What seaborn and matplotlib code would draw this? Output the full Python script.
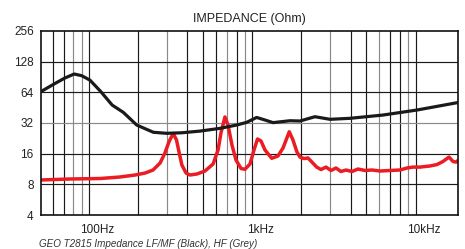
import matplotlib.pyplot as plt
import seaborn as sns
import pandas as pd

# values: frequency (Hz) / impedance (Ohm)
lf_freq = [44.9, 55, 63, 72, 80, 90, 105, 123, 144, 174, 220, 265, 328, 425, 563, 713,
           820, 945, 1060, 1190, 1510, 1740, 2150, 2660, 3530, 5600, 9070, 16180]
lf_ohm = [64.7, 78, 88, 96.5, 93, 84, 64.7, 47.9, 40.6, 30.5, 25.9, 25.3, 25.6, 26.6, 28.3, 30.5,
          32.4, 36.2, 34.2, 32.2, 33.6, 33.4, 36.8, 34.7, 35.5, 38.2, 42.8, 50.7]

hf_freq = [44.9, 68, 104, 137, 170, 196, 219, 242, 259, 274, 291, 305, 316, 329, 349, 369, 407, 456,
           511, 548, 571, 604, 631, 667, 706, 758, 801, 860, 910, 956, 1004, 1063, 1168, 1276, 1370,
           1497, 1577, 1668, 1741, 1842, 1948, 2062, 2203, 2342, 2514, 2697, 2893, 3104, 3331, 3627,
           3946, 4355, 4808, 5383, 6198, 7131, 7874, 8570, 9463, 10890, 12030, 13090, 14250, 15070,
           15730, 16180]
hf_ohm = [8.82, 9.02, 9.12, 9.43, 9.87, 10.32, 11.05, 12.94, 16.2, 20.8, 25.2, 21.75, 16.6, 12.37,
          10.32, 9.87, 10.1, 10.8, 12.65, 17.35, 25.5, 36.6, 30.5, 19.4, 13.85, 11.43, 11.23, 12.65,
          17.35, 22.25, 21.3, 17.35, 14.4, 15.15, 18.15, 26.2, 21.75, 16.6, 14.8, 14.3, 14.5, 13.2,
          11.8, 11.17, 11.8, 10.93, 11.56, 10.68, 11.05, 10.68, 11.3, 10.93, 11.05, 10.8, 10.93,
          11.05, 11.56, 11.8, 11.8, 12.1, 12.5, 13.4, 14.8, 13.4, 13.2, 13.7]

y_ticks = [4, 8, 16, 32, 64, 128, 256]
x_ticks = [100, 1000, 10000]
x_labels = ['100Hz', '1kHz', '10kHz']

# the printed grid sits a quarter decade off the frequency labels
grid_shift = 10 ** 0.25
grid_base = [30, 35, 40, 45, 50, 100, 150, 200, 250, 300, 350, 400, 450, 500,
             1000, 1500, 2000, 2500, 3000, 3500, 4000, 4500, 5000]
grid_grey = [40, 45, 150, 350, 450, 1500, 3000, 4500]

sns.set_style('white')
plt.rcParams['font.family'] = ['Liberation Sans', 'DejaVu Sans']

lf = pd.DataFrame({'freq': lf_freq, 'ohm': lf_ohm})
hf = pd.DataFrame({'freq': hf_freq, 'ohm': hf_ohm})

fig = plt.figure(figsize=(4.65, 2.49), dpi=100)
ax = fig.add_axes([0.0875, 0.1365, 0.8975, 0.7398])

for g in grid_base:
    c = '#8a8a8a' if g in grid_grey else '#1a1a1a'
    ax.axvline(g * grid_shift, color=c, lw=0.85, zorder=1)
for t in y_ticks[1:-1]:
    c = '#8a8a8a' if t == 32 else '#1a1a1a'
    ax.axhline(t, color=c, lw=0.85, zorder=1)

sns.lineplot(data=lf, x='freq', y='ohm', ax=ax, color='#1a1a1a', lw=2.3, zorder=3)
sns.lineplot(data=hf, x='freq', y='ohm', ax=ax, color='#ec1c24', lw=2.5, zorder=2)

ax.set_xscale('log')
ax.set_yscale('log', base=2)
ax.set_xlim(44.9, 16180)
ax.set_ylim(4, 256)
ax.set_xticks(x_ticks, x_labels)
ax.set_yticks(y_ticks, [str(t) for t in y_ticks])
ax.minorticks_off()
ax.tick_params(length=0, labelsize=8.5, colors='#222222')
ax.tick_params(axis='x', pad=6.5)
ax.tick_params(axis='y', pad=5)
ax.set_xlabel('')
ax.set_ylabel('')
for s in ax.spines.values():
    s.set_color('#111111')
    s.set_linewidth(1.2)

ax.set_title('IMPEDANCE (Ohm)', fontsize=9, color='#222222', pad=6)
fig.text(0.084, 0.01, 'GEO T2815 Impedance LF/MF (Black), HF (Grey)', fontsize=7.1,
         style='italic', color='#333333', family=['Liberation Sans Narrow', 'Liberation Sans'])

fig.savefig('out.png', dpi=100)
